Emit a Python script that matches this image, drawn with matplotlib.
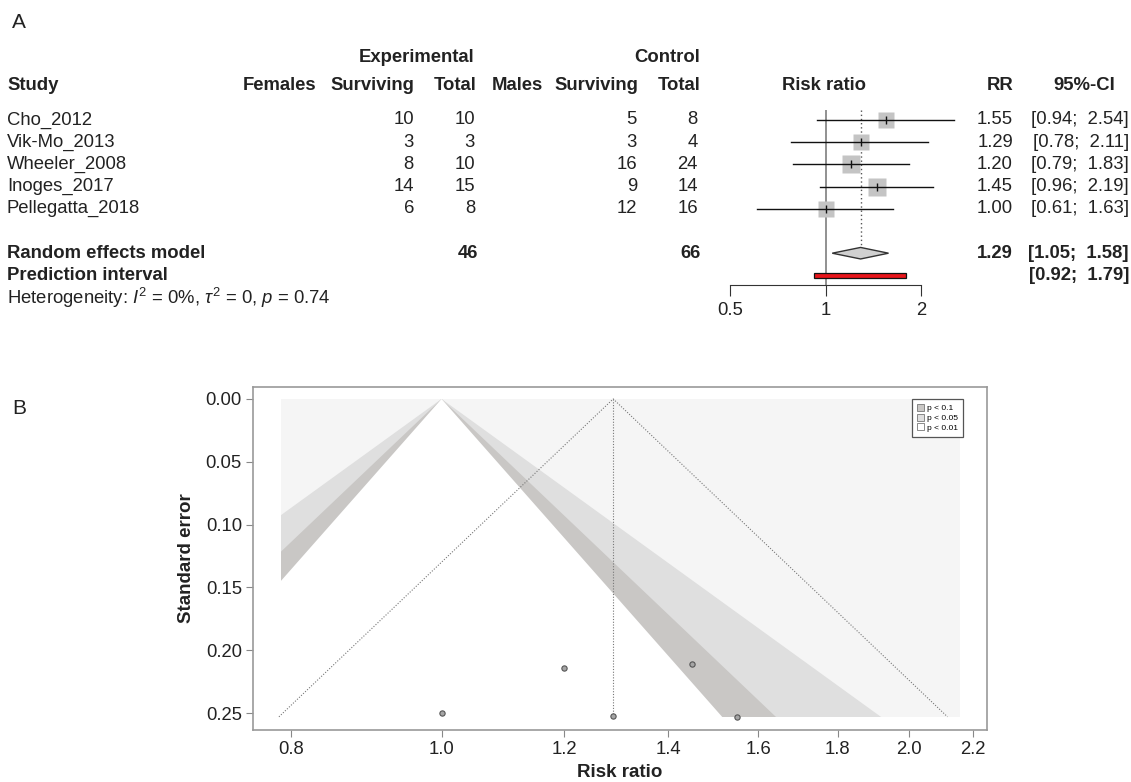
import numpy as np
import matplotlib
matplotlib.use('Agg')
import matplotlib.pyplot as plt
from matplotlib import transforms
from matplotlib.patches import Polygon, Rectangle, Patch

plt.rcParams['font.family'] = ['Liberation Sans', 'DejaVu Sans']
plt.rcParams['mathtext.fontset'] = 'custom'
plt.rcParams['mathtext.rm'] = 'Liberation Sans'
plt.rcParams['mathtext.it'] = 'Liberation Sans:italic'
plt.rcParams['mathtext.bf'] = 'Liberation Sans:bold'

# study data (panel A)
study = ['Cho_2012', 'Vik-Mo_2013', 'Wheeler_2008', 'Inoges_2017', 'Pellegatta_2018']
exp_surv = [10, 3, 8, 14, 6]
exp_total = [10, 3, 10, 15, 8]
ctrl_surv = [5, 3, 16, 9, 12]
ctrl_total = [8, 4, 24, 14, 16]
rr = [1.55, 1.29, 1.20, 1.45, 1.00]
ci_low = [0.94, 0.78, 0.79, 0.96, 0.61]
ci_high = [2.54, 2.11, 1.83, 2.19, 1.63]
weight = [17.0, 17.0, 23.9, 24.7, 17.4]
exp_sum, ctrl_sum = 46, 66
pooled, pooled_lo, pooled_hi = 1.29, 1.05, 1.58
pred_lo, pred_hi = 0.92, 1.79
forest_ticks = [0.5, 1, 2]

# funnel data (panel B)
se = [0.253, 0.252, 0.214, 0.211, 0.250]
funnel_xticks = [0.8, 1.0, 1.2, 1.4, 1.6, 1.8, 2.0, 2.2]
funnel_yticks = [0.00, 0.05, 0.10, 0.15, 0.20, 0.25]
levels = [0.1, 0.05, 0.01]
z_crit = [1.645, 1.960, 2.576]

W, H = 1131, 782
fig = plt.figure(figsize=(W / 100, H / 100), dpi=100)

def fx(x):
    return x / W

def fy(y):
    return 1 - y / H

FS = 13.3
TXT = '#222222'

fig.text(fx(12), fy(23), 'A', fontsize=15, va='center', color=TXT)
fig.text(fx(12), fy(408), 'B', fontsize=15, va='center', color=TXT)

# ---------- panel A: forest plot ----------
ROW0, STEP = 120, 22.2   # pixel y of first study row, row spacing
ax_f = fig.add_axes([fx(700), fy(330), 280 / W, 230 / H])
ax_f.set_xscale('log')
ax_f.set_xlim(0.402, 3.07)
ax_f.set_ylim((330 - ROW0) / STEP, (100 - ROW0) / STEP)
ax_f.patch.set_visible(False)
for s in ['top', 'left', 'right']:
    ax_f.spines[s].set_visible(False)
ax_f.yaxis.set_visible(False)
axis_row = (285 - ROW0) / STEP
ax_f.spines['bottom'].set_position(('data', axis_row))
ax_f.spines['bottom'].set_bounds(0.5, 2)
ax_f.spines['bottom'].set_color('#333333')
ax_f.set_xticks(forest_ticks)
ax_f.set_xticklabels([str(t) for t in forest_ticks])
ax_f.xaxis.set_minor_locator(matplotlib.ticker.NullLocator())
ax_f.tick_params(axis='x', length=8, pad=4, labelsize=FS, color='#333333', labelcolor=TXT)

rows = np.arange(len(study))
ax_f.vlines(1, -0.45, axis_row, color='#888888', lw=1.3, zorder=1)
ax_f.vlines(pooled, -0.45, 6, color='#555555', lw=1, linestyle=(0, (1, 2)), zorder=1)
for i in rows:
    side = 11.0 * np.sqrt(weight[i] / 17.0)
    ax_f.plot(rr[i], i, 's', ms=side, color='#c4c4c4', mec='none', zorder=2)
    ax_f.plot([ci_low[i], ci_high[i]], [i, i], color='#111111', lw=1, zorder=3)
    ax_f.plot(rr[i], i, '|', ms=6, color='#111111', mew=1, zorder=4)

dia = Polygon([[pooled_lo, 6], [pooled, 5.74], [pooled_hi, 6], [pooled, 6.26]],
              closed=True, fc='#d0d0d0', ec='#333333', lw=1, zorder=3)
ax_f.add_patch(dia)
ax_f.add_patch(Rectangle((pred_lo, 6.88), pred_hi - pred_lo, 0.24,
                         fc='#e8151b', ec='#111111', lw=0.9, zorder=3))

# table text: x in figure pixels, y in forest rows
tr = transforms.blended_transform_factory(fig.transFigure, ax_f.transData)

def put(xp, row, s, ha='right', bold=False, **kw):
    fig.text(fx(xp), row, s, transform=tr, ha=ha, va='center', fontsize=FS,
             fontweight='bold' if bold else 'normal', color=TXT, **kw)

hdr1, hdr2 = (58 - ROW0) / STEP, (86 - ROW0) / STEP
put(474, hdr1, 'Experimental', bold=True)
put(700, hdr1, 'Control', bold=True)
put(7, hdr2, 'Study', ha='left', bold=True)
put(316, hdr2, 'Females', bold=True)
put(414, hdr2, 'Surviving', bold=True)
put(476, hdr2, 'Total', bold=True)
put(543, hdr2, 'Males', bold=True)
put(638, hdr2, 'Surviving', bold=True)
put(700, hdr2, 'Total', bold=True)
put(824, hdr2, 'Risk ratio', ha='center', bold=True)
put(1013, hdr2, 'RR', bold=True)
put(1115, hdr2, '95%-CI', bold=True)

for i in rows:
    put(7, i, study[i], ha='left')
    put(414, i, str(exp_surv[i]))
    put(475, i, str(exp_total[i]))
    put(637, i, str(ctrl_surv[i]))
    put(698, i, str(ctrl_total[i]))
    put(1013, i, f'{rr[i]:.2f}')
    put(1129, i, f'[{ci_low[i]:.2f};  {ci_high[i]:.2f}]')

put(7, 6, 'Random effects model', ha='left', bold=True)
put(478, 6, str(exp_sum), bold=True)
put(701, 6, str(ctrl_sum), bold=True)
put(1013, 6, f'{pooled:.2f}', bold=True)
put(1129, 6, f'[{pooled_lo:.2f};  {pooled_hi:.2f}]', bold=True)
put(7, 7, 'Prediction interval', ha='left', bold=True)
put(1129, 7, f'[{pred_lo:.2f};  {pred_hi:.2f}]', bold=True)
put(7, 8, r'Heterogeneity: $\mathit{I}^2$ = 0%, $\tau^2$ = 0, $\mathit{p}$ = 0.74', ha='left')

# ---------- panel B: contour-enhanced funnel plot ----------
ax_b = fig.add_axes([fx(253), fy(730), (987 - 253) / W, (730 - 387) / H])
ax_b.set_xscale('log')
ax_b.set_xlim(0.756, 2.246)
ax_b.set_ylim(0.2635, -0.0095)

se_max = max(se)
x_lo, x_hi = 0.788, 2.158
bg = Rectangle((x_lo, 0), x_hi - x_lo, se_max, fc='#f5f5f5', ec='none', zorder=0)
ax_b.add_patch(bg)
band_cols = ['#ffffff', '#c9c7c5', '#dfdfdf']  # inside p>0.1, 0.05-0.1, 0.01-0.05
deep = se_max * 1.3
for z, col in zip(z_crit[::-1], band_cols[::-1]):
    wedge = Polygon([[1, 0], [np.exp(z * deep), deep], [np.exp(-z * deep), deep]],
                    closed=True, fc=col, ec='none', zorder=1)
    ax_b.add_patch(wedge)
    wedge.set_clip_path(bg)

# pseudo confidence region around pooled estimate
lo_end = np.exp(np.log(pooled) - 1.96 * se_max)
hi_end = np.exp(np.log(pooled) + 1.96 * se_max)
ax_b.plot([lo_end, pooled, hi_end], [se_max, 0, se_max], color='#777777', lw=0.8,
          linestyle=(0, (1, 1.5)), zorder=2)
ax_b.plot([pooled, pooled], [0, se_max], color='#777777', lw=0.8,
          linestyle=(0, (1, 1.5)), zorder=2)

ax_b.plot(rr, se, 'o', ms=3.8, mfc='#a5a5a5', mec='#555555', mew=0.8, zorder=4)

ax_b.set_xticks(funnel_xticks)
ax_b.set_xticklabels([f'{t:.1f}' for t in funnel_xticks])
ax_b.xaxis.set_minor_locator(matplotlib.ticker.NullLocator())
ax_b.set_yticks(funnel_yticks)
ax_b.set_yticklabels([f'{t:.2f}' for t in funnel_yticks])
ax_b.tick_params(length=5, pad=3, labelsize=FS, color='#888888', labelcolor=TXT)
for s in ax_b.spines.values():
    s.set_color('#999999')
    s.set_linewidth(1.2)
ax_b.set_xlabel('Risk ratio', fontsize=13.5, fontweight='bold', color=TXT, labelpad=4)
ax_b.set_ylabel('Standard error', fontsize=13.5, fontweight='bold', color=TXT, labelpad=8)

handles = [Patch(fc='#c9c7c5', ec='#777777', lw=0.6),
           Patch(fc='#dfdfdf', ec='#777777', lw=0.6),
           Patch(fc='#ffffff', ec='#777777', lw=0.6)]
leg = ax_b.legend(handles, [f'p < {l}' for l in levels], loc='upper right',
                  bbox_to_anchor=(0.967, 0.965), borderaxespad=0, fontsize=6,
                  fancybox=False, framealpha=1, edgecolor='#555555',
                  handlelength=0.9, handleheight=0.9, handletextpad=0.3,
                  labelspacing=0.15, borderpad=0.6)
leg.get_frame().set_linewidth(0.9)

fig.savefig('out.png', dpi=100)
